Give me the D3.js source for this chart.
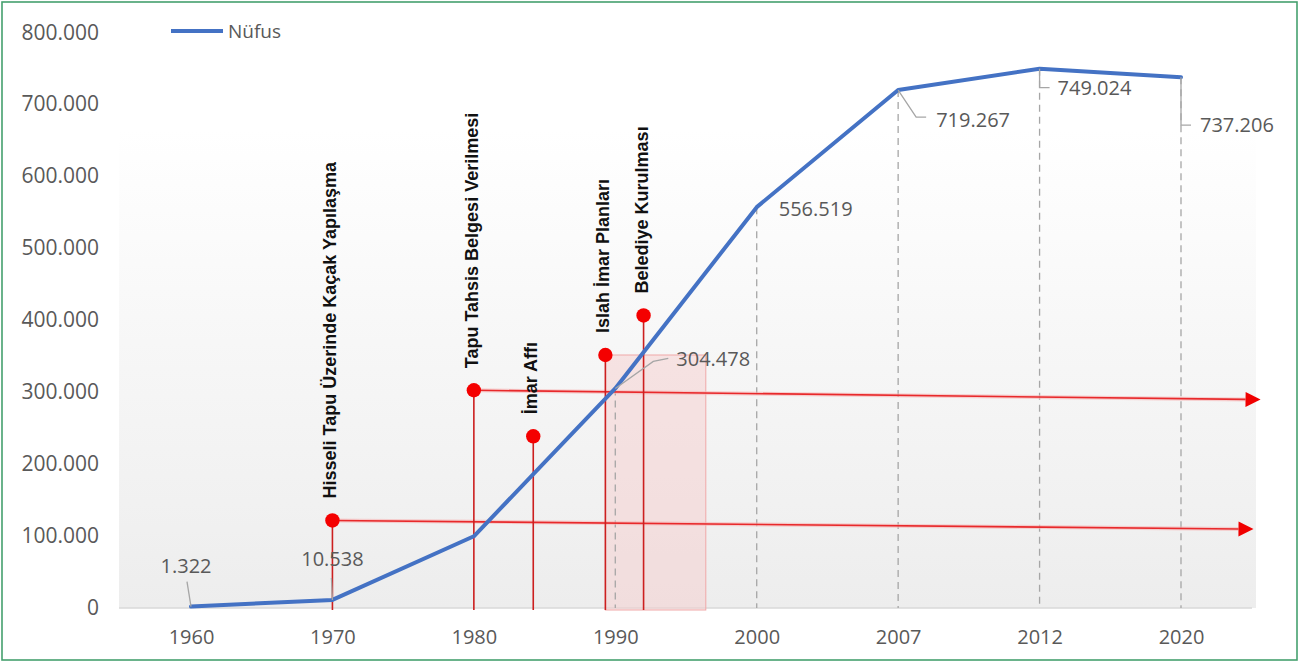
<!DOCTYPE html>
<html>
<head>
<meta charset="utf-8">
<script src="https://cdn.jsdelivr.net/npm/d3@7"></script>
<style>
  body { margin: 0; background: #fff; }
  svg { display: block; }
</style>
</head>
<body>
<svg id="chart" width="1309" height="664"></svg>
<script>
// population series
var years = ["1960", "1970", "1980", "1990", "2000", "2007", "2012", "2020"];
var population = [1322, 10538, 99000, 304478, 556519, 719267, 749024, 737206];
var yTicks = [0, 100000, 200000, 300000, 400000, 500000, 600000, 700000, 800000];

// planning events (red pins)
var eventLabels = ["Hisseli Tapu Üzerinde Kaçak Yapılaşma", "Tapu Tahsis Belgesi Verilmesi", "İmar Affı", "Islah İmar Planları", "Belediye Kurulması"];
var eventYears = [1970, 1980, 1984.2, 1989.3, 1992];
var eventLevels = [121000, 302000, 238000, 351000, 406000];

// arrows leaving from first two events
var arrowFrom = [0, 1];
var arrowEndYear = [2024.1, 2024.5];
var arrowEndLevel = [109000, 289000];

// shaded period
var spanYears = [1989.3, 1996.4];
var spanTop = 351000;

var fmt = function (d) { return d3.format(",")(d).replace(/,/g, "."); };

var svg = d3.select("#chart");
var W = 1309, H = 664;

var x = d3.scalePoint().domain(years).range([191, 1181]);
var y = d3.scaleLinear().domain([0, 800000]).range([607.5, 32]);
var yBase = 608;

// position of any year between the categories
function xAt(yr) {
    var nums = years.map(Number);
    var i = d3.bisectRight(nums, yr) - 1;
    if (i < 0) i = 0;
    if (i >= nums.length - 1) i = nums.length - 2;
    var t = (yr - nums[i]) / (nums[i + 1] - nums[i]);
    return x(years[i]) + t * x.step();
}

// outer frame
svg.append("rect")
    .attr("x", 2).attr("y", 2).attr("width", W - 14).attr("height", H - 6)
    .attr("fill", "#fff").attr("stroke", "#45a06e").attr("stroke-width", 1.6);

// plot background gradient
var grad = svg.append("defs").append("linearGradient")
    .attr("id", "bg").attr("x1", 0).attr("y1", 0).attr("x2", 0).attr("y2", 1);
grad.append("stop").attr("offset", "0%").attr("stop-color", "#ffffff");
grad.append("stop").attr("offset", "100%").attr("stop-color", "#ededed");

svg.append("rect")
    .attr("x", 119).attr("y", 130).attr("width", 1137).attr("height", yBase - 130)
    .attr("fill", "url(#bg)");

// y axis labels
svg.append("g").selectAll("text")
    .data(yTicks)
    .enter()
    .append("text")
    .attr("x", 99)
    .attr("y", function (d) { return y(d); })
    .attr("dy", "0.36em")
    .attr("text-anchor", "end")
    .attr("font-family", "Open Sans")
    .attr("font-size", 21)
    .attr("fill", "#595959")
    .text(fmt);

// x axis
var xAxis = svg.append("g")
    .attr("transform", "translate(0," + yBase + ")")
    .call(d3.axisBottom(x).tickSize(0).tickPadding(22));
xAxis.select(".domain").remove();
xAxis.append("line")
    .attr("x1", 119).attr("x2", 1252)
    .attr("stroke", "#d9d9d9").attr("stroke-width", 1.5);
xAxis.selectAll("text")
    .attr("font-family", "Open Sans")
    .attr("font-size", 20)
    .attr("fill", "#595959");

// shaded period
svg.append("rect")
    .attr("x", xAt(spanYears[0]))
    .attr("y", y(spanTop))
    .attr("width", xAt(spanYears[1]) - xAt(spanYears[0]))
    .attr("height", yBase + 2 - y(spanTop))
    .attr("fill", "#f7c9c9").attr("fill-opacity", 0.45)
    .attr("stroke", "#f0a8a8").attr("stroke-width", 1);

// dashed drop lines from later points
var dropIdx = [3, 4, 5, 6, 7];
svg.append("g").selectAll("line")
    .data(dropIdx)
    .enter()
    .append("line")
    .attr("x1", function (i) { return x(years[i]); })
    .attr("x2", function (i) { return x(years[i]); })
    .attr("y1", function (i) { return y(population[i]); })
    .attr("y2", yBase)
    .attr("stroke", "#a6a6a6").attr("stroke-width", 1.3)
    .attr("stroke-dasharray", "7,5");

// arrows
var arrows = svg.append("g");
arrowFrom.forEach(function (e, k) {
    var x1 = xAt(eventYears[e]), y1 = y(eventLevels[e]);
    var x2 = xAt(arrowEndYear[k]), y2 = y(arrowEndLevel[k]);
    var ang = Math.atan2(y2 - y1, x2 - x1);
    var hl = 15, hw = 7.5;
    var bx = x2 - hl * Math.cos(ang), by = y2 - hl * Math.sin(ang);
    arrows.append("line")
        .attr("x1", x1).attr("y1", y1).attr("x2", bx).attr("y2", by)
        .attr("stroke", "#f6b4b4").attr("stroke-width", 4).attr("stroke-opacity", 0.6);
    arrows.append("line")
        .attr("x1", x1).attr("y1", y1).attr("x2", bx).attr("y2", by)
        .attr("stroke", "#e8292b").attr("stroke-width", 1.6);
    arrows.append("path")
        .attr("d", "M" + x2 + "," + y2 +
            "L" + (bx + hw * Math.sin(ang)) + "," + (by - hw * Math.cos(ang)) +
            "L" + (bx - hw * Math.sin(ang)) + "," + (by + hw * Math.cos(ang)) + "Z")
        .attr("fill", "#f00000");
});

// event pins
var pins = svg.append("g").selectAll("g")
    .data(eventLabels)
    .enter()
    .append("g");

pins.append("line")
    .attr("x1", function (d, i) { return xAt(eventYears[i]); })
    .attr("x2", function (d, i) { return xAt(eventYears[i]); })
    .attr("y1", function (d, i) { return y(eventLevels[i]); })
    .attr("y2", yBase + 2)
    .attr("stroke", "#cc1f1f").attr("stroke-width", 1.6);

pins.append("circle")
    .attr("cx", function (d, i) { return xAt(eventYears[i]); })
    .attr("cy", function (d, i) { return y(eventLevels[i]); })
    .attr("r", 7.2)
    .attr("fill", "#f40000");

pins.append("text")
    .attr("transform", function (d, i) {
        return "translate(" + (xAt(eventYears[i]) + 4) + "," + (y(eventLevels[i]) - 22) + ") rotate(-90)";
    })
    .attr("text-anchor", "start")
    .attr("font-family", "Liberation Sans, Arial, sans-serif")
    .attr("font-weight", "bold")
    .attr("font-size", 18)
    .attr("fill", "#111")
    .text(function (d) { return d; });

// population line
var line = d3.line()
    .x(function (d, i) { return x(years[i]); })
    .y(function (d) { return y(d); });

svg.append("path")
    .datum(population)
    .attr("d", line)
    .attr("fill", "none")
    .attr("stroke", "#4472c4")
    .attr("stroke-width", 4)
    .attr("stroke-linejoin", "round")
    .attr("stroke-linecap", "round");

// data labels: offset of label from point, anchor, leader elbow (relative)
var labelLayout = [
    { dx: -5, dy: -41, anchor: "middle", leader: [[-4, -25]] },
    { dx: 0, dy: -41, anchor: "middle", leader: [[-1, -22]] },
    null,
    { dx: 61, dy: -30, anchor: "start", leader: [[38, -27], [53, -30]] },
    { dx: 22, dy: 2, anchor: "start", leader: null },
    { dx: 38, dy: 30, anchor: "start", leader: [[18, 27], [28, 27]] },
    { dx: 18, dy: 19, anchor: "start", leader: [[0, 19], [10, 19]] },
    { dx: 19, dy: 48, anchor: "start", leader: [[0, 48], [10, 48]] }
];

var lbl = svg.append("g");
population.forEach(function (v, i) {
    var L = labelLayout[i];
    if (!L) return;
    var px = x(years[i]), py = y(v);
    if (L.leader) {
        var pts = [[px, py]].concat(L.leader.map(function (p) { return [px + p[0], py + p[1]]; }));
        lbl.append("path")
            .attr("d", d3.line()(pts))
            .attr("fill", "none")
            .attr("stroke", "#a6a6a6")
            .attr("stroke-width", 1.3);
    }
    lbl.append("text")
        .attr("x", px + L.dx)
        .attr("y", py + L.dy)
        .attr("dy", "0.36em")
        .attr("text-anchor", L.anchor)
        .attr("font-family", "Open Sans")
        .attr("font-size", 20)
        .attr("fill", "#595959")
        .text(fmt(v));
});

// legend
var leg = svg.append("g").attr("transform", "translate(171,31)");
leg.append("line")
    .attr("x1", 0).attr("x2", 52)
    .attr("stroke", "#4472c4").attr("stroke-width", 4);
leg.append("text")
    .attr("x", 57).attr("dy", "0.36em")
    .attr("font-family", "Open Sans")
    .attr("font-size", 19)
    .attr("fill", "#595959")
    .text("Nüfus");
</script>
</body>
</html>
